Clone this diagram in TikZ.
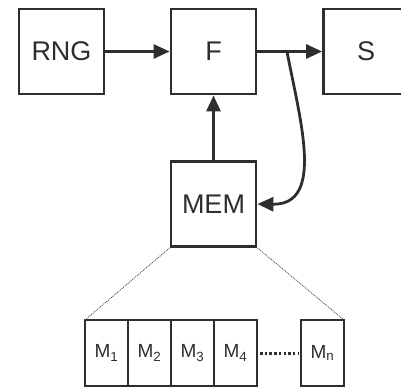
\documentclass[tikz,border=0pt]{standalone}
\usepackage{fontspec}
\setmainfont{Liberation Sans}
\usetikzlibrary{arrows.meta,positioning}
\definecolor{ink}{HTML}{2E2E2E}

\begin{document}
\begin{tikzpicture}[
    x=1pt,y=1pt,
    box/.style={draw=ink,line width=2.8pt,minimum width=85pt,minimum height=85pt,font=\fontsize{27}{30}\selectfont,text=ink},
    cell/.style={draw=ink,line width=2.6pt,minimum width=43pt,minimum height=66pt,outer sep=0pt,font=\fontsize{19}{22}\selectfont,text=ink},
    arr/.style={-{Triangle[length=16pt,width=14pt]},line width=2.8pt,ink},
    zoomline/.style={ink!80,line width=0.9pt,dash pattern=on 1pt off 1pt}
]
\useasboundingbox (0,0) rectangle (401,389);

\node[box] (rng) at (61.5,337.5) {RNG};
\node[box] (f) at (213.5,337.5) {F};
\node[box] (s) at (366,337.5) {S};
\node[box] (mem) at (213.5,185) {MEM};

% memory cells
\node[cell] (m1) at (106.5,36) {M\textsubscript{1}};
\node[cell,right=0pt of m1] (m2) {M\textsubscript{2}};
\node[cell,right=0pt of m2] (m3) {M\textsubscript{3}};
\node[cell,right=0pt of m3] (m4) {M\textsubscript{4}};
\node[cell,right=44pt of m4] (mn) {M\textsubscript{n}};

\draw[arr] (rng) -- (f);
\draw[arr] (f) -- (s);
\draw[arr] (mem) -- (f);
\coordinate (tap) at (287,337.5);
\draw[arr] (tap) .. controls (300,269) and (325,184) .. (mem.east);

\draw[zoomline] (mem.south west) -- (m1.north west);
\draw[zoomline] (mem.south east) -- (mn.north east);
\draw[ink,line width=3pt,dash pattern=on 2.5pt off 2.2pt] ([xshift=3pt]m4.east) -- ([xshift=-3pt]mn.west);
\end{tikzpicture}
\end{document}
